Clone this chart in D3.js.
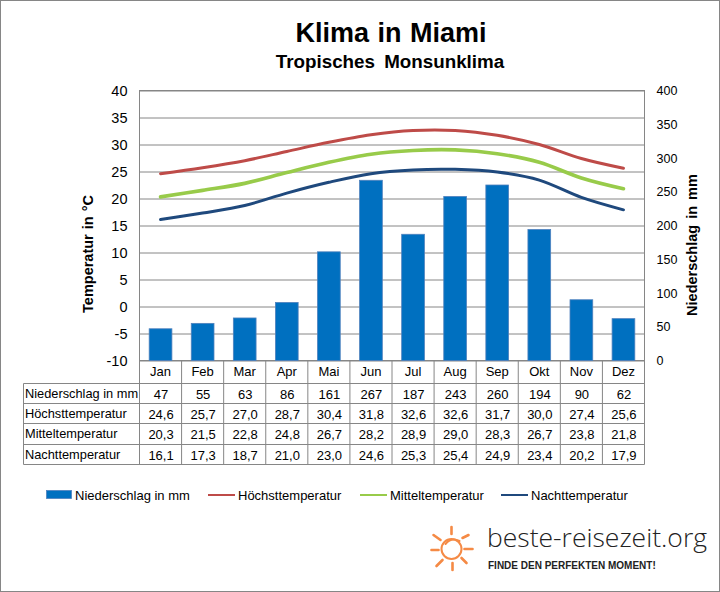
<!DOCTYPE html>
<html>
<head>
<meta charset="utf-8">
<script src="https://cdn.jsdelivr.net/npm/d3@7/dist/d3.min.js"></script>
<style>
  html, body { margin: 0; padding: 0; background: #fff; }
  svg { display: block; font-family: "Liberation Sans", Arial, sans-serif; }
</style>
</head>
<body>
<svg id="chart" width="720" height="592"></svg>
<script>
const months = ['Jan', 'Feb', 'Mar', 'Apr', 'Mai', 'Jun', 'Jul', 'Aug', 'Sep', 'Okt', 'Nov', 'Dez'];
const rain = [47, 55, 63, 86, 161, 267, 187, 243, 260, 194, 90, 62];
const high = [24.6, 25.7, 27.0, 28.7, 30.4, 31.8, 32.6, 32.6, 31.7, 30.0, 27.4, 25.6];
const mean = [20.3, 21.5, 22.8, 24.8, 26.7, 28.2, 28.9, 29.0, 28.3, 26.7, 23.8, 21.8];
const night = [16.1, 17.3, 18.7, 21.0, 23.0, 24.6, 25.3, 25.4, 24.9, 23.4, 20.2, 17.9];
const tempTicks = [-10, -5, 0, 5, 10, 15, 20, 25, 30, 35, 40];
const rainTicks = [0, 50, 100, 150, 200, 250, 300, 350, 400];

const GREY = '#868686';
const plot = { left: 139.5, right: 644.5, top: 90.5, bottom: 360.5 };
const svg = d3.select('#chart');

const x = d3.scaleBand().domain(months).range([plot.left, plot.right]);
const yTemp = d3.scaleLinear().domain([-10, 40]).range([plot.bottom, plot.top]);
const yRain = d3.scaleLinear().domain([0, 400]).range([plot.bottom, plot.top]);

// outer frame
svg.append('rect').attr('x', 0.5).attr('y', 0.5).attr('width', 719).attr('height', 591)
  .attr('fill', '#fff').attr('stroke', GREY);

svg.append('text').attr('x', 391).attr('y', 42).attr('text-anchor', 'middle')
  .attr('font-size', 27).attr('font-weight', 'bold').attr('word-spacing', 1)
  .text('Klima in Miami');
svg.append('text').attr('x', 390).attr('y', 68).attr('text-anchor', 'middle')
  .attr('font-size', 18.8).attr('font-weight', 'bold').attr('word-spacing', 4)
  .text('Tropisches Monsunklima');

// left axis with the gridlines
const leftAxis = svg.append('g')
  .attr('transform', `translate(${plot.left},0)`)
  .call(d3.axisLeft(yTemp).tickValues(tempTicks).tickFormat(d => String(d)).tickSize(0).tickPadding(12));
leftAxis.select('.domain').remove();
leftAxis.selectAll('text').attr('font-size', 14.5).attr('font-family', 'inherit').attr('fill', '#000');
leftAxis.selectAll('.tick line')
  .attr('x2', plot.right - plot.left).attr('stroke', GREY);

const rightAxis = svg.append('g')
  .attr('transform', `translate(${plot.right},0)`)
  .call(d3.axisRight(yRain).tickValues(rainTicks).tickSize(0).tickPadding(12));
rightAxis.select('.domain').remove();
rightAxis.selectAll('text').attr('font-size', 12.5).attr('font-family', 'inherit').attr('fill', '#000');

svg.append('rect')
  .attr('x', plot.left).attr('y', plot.top)
  .attr('width', plot.right - plot.left).attr('height', plot.bottom - plot.top)
  .attr('fill', 'none').attr('stroke', GREY);

// bars
svg.append('g').selectAll('rect').data(rain).enter().append('rect')
  .attr('x', (d, i) => x(months[i]) + x.bandwidth() * 0.23)
  .attr('y', d => yRain(d))
  .attr('width', x.bandwidth() * 0.54)
  .attr('height', d => yRain(0) - yRain(d))
  .attr('fill', '#0070C0')
  .attr('stroke', '#4F81BD')
  .attr('stroke-width', 0.8);

// temperature lines
const line = d3.line()
  .x((d, i) => x(months[i]) + x.bandwidth() / 2)
  .y(d => yTemp(d))
  .curve(d3.curveCatmullRom.alpha(0));
const lineSeries = [
  { name: 'Höchsttemperatur', values: high, color: '#BE4B48', width: 3 },
  { name: 'Mitteltemperatur', values: mean, color: '#98CB4A', width: 3.6 },
  { name: 'Nachttemperatur', values: night, color: '#1F497D', width: 3 }
];
lineSeries.forEach(s => {
  svg.append('path').datum(s.values)
    .attr('d', line)
    .attr('fill', 'none')
    .attr('stroke', s.color)
    .attr('stroke-width', s.width)
    .attr('stroke-linecap', 'round');
});

// axis titles
svg.append('text')
  .attr('transform', 'translate(93,254) rotate(-90)')
  .attr('text-anchor', 'middle').attr('font-size', 14.5).attr('font-weight', 'bold').attr('word-spacing', 1)
  .text('Temperatur in °C');
svg.append('text')
  .attr('transform', 'translate(697,245) rotate(-90)')
  .attr('text-anchor', 'middle').attr('font-size', 14.5).attr('font-weight', 'bold').attr('word-spacing', 2)
  .text('Niederschlag in mm');

// data table
const comma = v => v.toFixed(1).replace('.', ',');
const tableRows = [
  { label: 'Niederschlag in mm', cells: rain.map(String), top: 383.5, bottom: 403.5 },
  { label: 'Höchsttemperatur', cells: high.map(comma), top: 403.5, bottom: 423.5 },
  { label: 'Mitteltemperatur', cells: mean.map(comma), top: 423.5, bottom: 444.5 },
  { label: 'Nachttemperatur', cells: night.map(comma), top: 444.5, bottom: 464.5 }
];
const table = svg.append('g');
const tableLeft = 23.5;

months.forEach((m, i) => {
  table.append('line')
    .attr('x1', x(m)).attr('x2', x(m))
    .attr('y1', plot.bottom).attr('y2', 464.5)
    .attr('stroke', GREY);
  table.append('text')
    .attr('x', x(m) + x.bandwidth() / 2).attr('y', 376)
    .attr('text-anchor', 'middle').attr('font-size', 13)
    .text(m);
});
table.append('line').attr('x1', plot.right).attr('x2', plot.right)
  .attr('y1', plot.bottom).attr('y2', 464.5).attr('stroke', GREY);
table.append('line').attr('x1', tableLeft).attr('x2', tableLeft)
  .attr('y1', 383.5).attr('y2', 464.5).attr('stroke', GREY);

tableRows.forEach(r => {
  table.append('line').attr('x1', tableLeft).attr('x2', plot.right)
    .attr('y1', r.top).attr('y2', r.top).attr('stroke', GREY);
  table.append('line').attr('x1', tableLeft).attr('x2', plot.right)
    .attr('y1', r.bottom).attr('y2', r.bottom).attr('stroke', GREY);
  table.append('text')
    .attr('x', 25).attr('y', r.top + 14)
    .attr('font-size', 12.8)
    .text(r.label);
  r.cells.forEach((c, i) => {
    table.append('text')
      .attr('x', x(months[i]) + x.bandwidth() / 2 + 0.5).attr('y', r.top + 15)
      .attr('text-anchor', 'middle').attr('font-size', 13)
      .text(c);
  });
});

// legend
const legendY = 495;
svg.append('rect').attr('x', 46.5).attr('y', legendY - 4.5).attr('width', 25).attr('height', 8)
  .attr('fill', '#0070C0').attr('stroke', '#4F81BD').attr('stroke-width', 0.8);
svg.append('text').attr('x', 75).attr('y', legendY + 5).attr('font-size', 13).text('Niederschlag in mm');
[208, 360, 501].forEach((lx, i) => {
  const s = lineSeries[i];
  svg.append('line').attr('x1', lx).attr('x2', lx + 27).attr('y1', legendY).attr('y2', legendY)
    .attr('stroke', s.color).attr('stroke-width', 2);
  svg.append('text').attr('x', lx + 30).attr('y', legendY + 5).attr('font-size', 13).text(s.name);
});

// logo
const sun = svg.append('g').attr('transform', 'translate(451.5,549)')
  .attr('stroke', '#F58A45').attr('fill', 'none').attr('stroke-linecap', 'round');
sun.append('circle').attr('r', 10).attr('stroke-width', 2);
sun.append('path').attr('d', 'M-6,-5 Q0,-12 8,-8').attr('stroke-width', 2);
[[0, -15, 0, -22], [11, -11, 17, -14], [13, 0, 21, 0], [10, 9, 15, 14], [1, 14, 1, 21],
 [-9, 11, -15, 17], [-13, 1, -20, 1], [-11, -9, -18, -14]].forEach(r => {
  sun.append('line').attr('x1', r[0]).attr('y1', r[1]).attr('x2', r[2]).attr('y2', r[3])
    .attr('stroke-width', 2.6);
});
svg.append('text').attr('x', 487).attr('y', 547)
  .attr('font-family', '"Open Sans", sans-serif').attr('font-size', 26.5).attr('font-weight', 300).attr('fill', '#222')
  .text('beste-reisezeit.org');
svg.append('text').attr('x', 488).attr('y', 569)
  .attr('font-size', 10).attr('font-weight', 'bold').attr('fill', '#222')
  .text('FINDE DEN PERFEKTEN MOMENT!');
</script>
</body>
</html>
